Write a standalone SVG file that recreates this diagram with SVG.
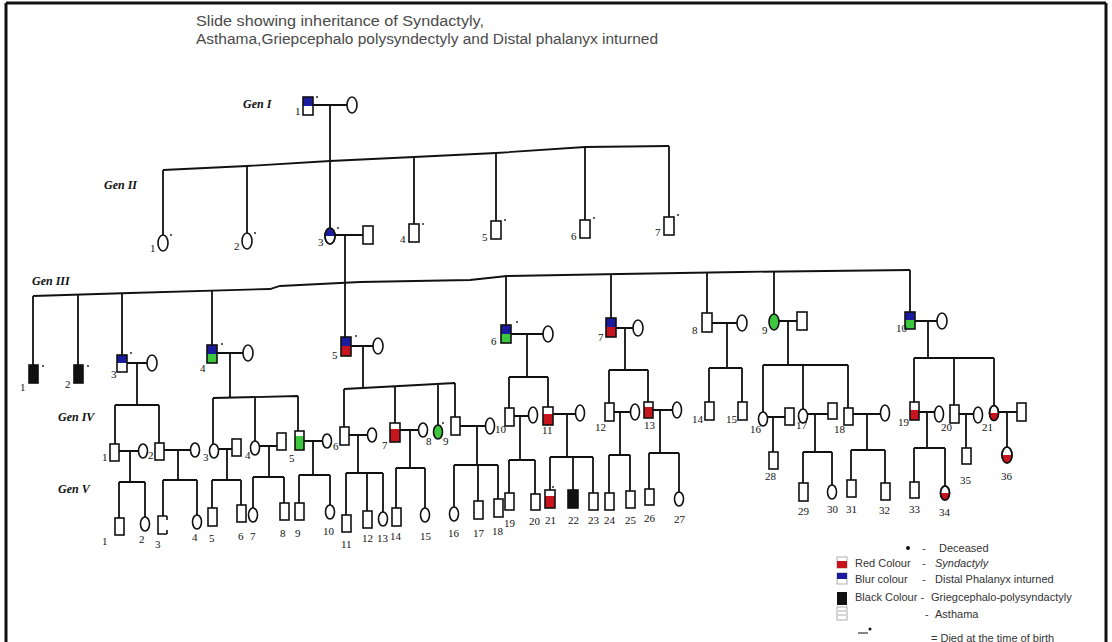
<svg xmlns="http://www.w3.org/2000/svg" width="1112" height="642" viewBox="0 0 1112 642">
<style>
.ln{fill:none;stroke:#111;stroke-width:1.8}
.s{fill:#fff;stroke:#111;stroke-width:1.6}
.o{fill:none;stroke:#111;stroke-width:1.6}
.b{fill:#1b1b9e}.r{fill:#c8141e}.g{fill:#3ec63e}.k{fill:#111}
.n{font-family:"Liberation Serif",serif;font-size:11px;fill:#111}
.gen{font-family:"Liberation Serif",serif;font-style:italic;font-weight:bold;font-size:12px;fill:#111}
.t{font-family:"Liberation Sans",Arial,sans-serif;font-size:14px;fill:#4a4a4a}
.lg{font-family:"Liberation Sans",Arial,sans-serif;font-size:11px;fill:#333}
.d{fill:#111}
</style>
<rect x="0" y="0" width="1112" height="642" fill="#fff"/>
<path d="M6 3H1106M6 3V642M1106 3V642" fill="none" stroke="#111" stroke-width="3"/>
<g id="title">
<text class="t" x="196" y="26" textLength="288" lengthAdjust="spacingAndGlyphs">Slide showing inheritance of Syndactyly,</text>
<text class="t" x="196" y="44" textLength="462" lengthAdjust="spacingAndGlyphs">Asthama,Griepcephalo polysyndectyly and Distal phalanyx inturned</text>
</g>
<g id="gen-labels">
<text class="gen" x="243" y="108">Gen I</text>
<text class="gen" x="104" y="189">Gen II</text>
<text class="gen" x="32" y="285">Gen III</text>
<text class="gen" x="58" y="421">Gen IV</text>
<text class="gen" x="58" y="493">Gen V</text>
</g>
<g id="connectors" class="ln">
<path d="M313 105H347M330 105V228"/>
<path d="M163 170L247 166L330 161L414 157L496 153L585 147L669 146"/>
<path d="M163 170V235M247 166V233M414 157V224M496 153V221M585 147V220M669 146V217"/>
<path d="M335 235H363M345 235V337"/>
<path d="M33 296L130 293L270 289L280 286L360 282L470 280L507 276L620 274L740 272L910 270"/>
<path d="M33 296V365M78 295V365M122 293V355M212 290V345M506 276V325M611 274V318M707 273V313M774 272V314M910 270V312"/>
<path d="M127 363H147M137 363V405M115 405H159M115 405V444M159 405V443"/>
<path d="M119 451H138.5M130 451V482M119 482H145M119 482V518M145 482V517"/>
<path d="M164 450H190.5M178 450V480M163 480H197M163 480V516M197 480V515"/>
<path d="M217 353H243M230 353V397M213 398L298 396M213 398V444M255 397V441M298 396V431"/>
<path d="M218.5 449H232M227 449V480M212 480H241M212 480V508M241 480V505"/>
<path d="M259.5 446H277M269 446V477M253 477H284M253 477V508M284 477V503"/>
<path d="M304 441H322.5M313 441V475M299 475H330M299 475V503M330 475V505"/>
<path d="M351 346H373M363 346V387M344 389L455 383M344 389V427M395 386V423M438 384V425M455 383V417"/>
<path d="M349 435H367.5M358 435V473M346 473H383M346 473V515M367 473V511M383 473V512"/>
<path d="M400 430H418.5M410 430V468M396 468H425M396 468V508M425 468V508"/>
<path d="M460 426H485.5M477 426V465M454 465H498M454 465V507M478 465V501M498 465V499"/>
<path d="M511 334H543M527 334V377M509 377H548M509 377V408M548 377V407"/>
<path d="M514 416H528.5M520 416V460M509 460H535M509 460V493M535 460V494"/>
<path d="M553 414H575.5M567 414V457M550 457H593M550 457V490M573 457V490M593 457V493"/>
<path d="M616 328H633M625 328V370M609 370H648M609 370V403M648 370V402"/>
<path d="M614 412H630.5M620 412V455M609 455H630M609 455V493M630 455V491"/>
<path d="M653 410H672.5M660 410V453M649 453H679M649 453V489M679 453V492"/>
<path d="M712 323H737M727 323V368M709 368H742M709 368V402M742 368V402"/>
<path d="M779 321H797M788 321V365M763 365H848M763 365V412M803 365V409M848 365V408"/>
<path d="M767.5 417H785M773 417V452"/>
<path d="M807.5 414H828M815 414V452M803 452H832M803 452V483M832 452V485"/>
<path d="M853 414H880.5M867 414V450M851 450H885M851 450V480M885 450V483"/>
<path d="M915 321H937M928 321V358M914 358H994M914 358V402M954 358V405M994 358V406"/>
<path d="M919 412H934.5M927 412V448M914 448H945M914 448V482M945 448V486"/>
<path d="M959 414H973.5M966 414V448"/>
<path d="M998.5 412H1017M1007 412V447"/>
</g>
<!-- Generation I -->
<g id="I-1"><rect class="b" x="303" y="97" width="10" height="9"/><rect class="o" x="303" y="97" width="10" height="18"/><text class="n" x="295" y="115">1</text><circle class="d" cx="317" cy="97" r="0.9"/></g>
<g id="I-2"><ellipse class="s" cx="352" cy="105" rx="5" ry="8"/></g>
<!-- Generation II -->
<g id="II-1"><ellipse class="s" cx="163" cy="243" rx="5" ry="8"/><text class="n" x="150" y="252">1</text><circle class="d" cx="171" cy="235" r="0.9"/></g>
<g id="II-2"><ellipse class="s" cx="247" cy="241" rx="5" ry="8"/><text class="n" x="234" y="250">2</text><circle class="d" cx="255" cy="233" r="0.9"/></g>
<g id="II-3"><ellipse class="s" cx="330" cy="236" rx="5" ry="8"/><path class="b" d="M325 236A5 8 0 0 1 335 236Z"/><ellipse class="o" cx="330" cy="236" rx="5" ry="8"/><text class="n" x="318" y="246">3</text><circle class="d" cx="338" cy="228" r="0.9"/></g>
<g id="II-3s"><rect class="s" x="363" y="226" width="10" height="18"/></g>
<g id="II-4"><rect class="s" x="409" y="224" width="10" height="18"/><text class="n" x="400" y="243">4</text><circle class="d" cx="423" cy="224" r="0.9"/></g>
<g id="II-5"><rect class="s" x="491" y="221" width="10" height="18"/><text class="n" x="482" y="241">5</text><circle class="d" cx="505" cy="220" r="0.9"/></g>
<g id="II-6"><rect class="s" x="580" y="220" width="10" height="18"/><text class="n" x="571" y="240">6</text><circle class="d" cx="594" cy="218" r="0.9"/></g>
<g id="II-7"><rect class="s" x="664" y="217" width="10" height="18"/><text class="n" x="655" y="236">7</text><circle class="d" cx="678" cy="215" r="0.9"/></g>
<!-- Generation III -->
<g id="III-1"><rect class="k" x="29" y="365" width="9" height="18"/><rect class="o" x="29" y="365" width="9" height="18"/><text class="n" x="20" y="391">1</text><circle class="d" cx="43" cy="366" r="0.9"/></g>
<g id="III-2"><rect class="k" x="74" y="365" width="9" height="18"/><rect class="o" x="74" y="365" width="9" height="18"/><text class="n" x="65" y="388">2</text><circle class="d" cx="88" cy="366" r="0.9"/></g>
<g id="III-3"><rect class="b" x="117" y="355" width="10" height="8"/><rect class="o" x="117" y="355" width="10" height="17"/><text class="n" x="111" y="378">3</text><circle class="d" cx="131" cy="353" r="0.9"/></g>
<g id="III-3s"><ellipse class="s" cx="152" cy="363" rx="5" ry="8"/></g>
<g id="III-4"><rect class="b" x="207" y="345" width="10" height="9"/><rect class="g" x="207" y="354" width="10" height="9"/><rect class="o" x="207" y="345" width="10" height="18"/><text class="n" x="200" y="372">4</text><circle class="d" cx="222" cy="344" r="0.9"/></g>
<g id="III-4s"><ellipse class="s" cx="248" cy="353" rx="5" ry="8"/></g>
<g id="III-5"><rect class="b" x="341" y="337" width="10" height="9"/><rect class="r" x="341" y="346" width="10" height="10"/><rect class="o" x="341" y="337" width="10" height="19"/><text class="n" x="332" y="359">5</text><circle class="d" cx="356" cy="336" r="0.9"/></g>
<g id="III-5s"><ellipse class="s" cx="378" cy="346" rx="5" ry="8"/></g>
<g id="III-6"><rect class="b" x="501" y="325" width="10" height="9"/><rect class="g" x="501" y="334" width="10" height="9"/><rect class="o" x="501" y="325" width="10" height="18"/><text class="n" x="491" y="345">6</text><circle class="d" cx="517" cy="322" r="0.9"/></g>
<g id="III-6s"><ellipse class="s" cx="548" cy="334" rx="5" ry="8"/></g>
<g id="III-7"><rect class="b" x="606" y="318" width="10" height="9"/><rect class="r" x="606" y="327" width="10" height="10"/><rect class="o" x="606" y="318" width="10" height="19"/><text class="n" x="598" y="341">7</text></g>
<g id="III-7s"><ellipse class="s" cx="638" cy="328" rx="5" ry="8"/></g>
<g id="III-8"><rect class="s" x="702" y="313" width="10" height="19"/><text class="n" x="692" y="334">8</text></g>
<g id="III-8s"><ellipse class="s" cx="742" cy="323" rx="5" ry="8"/></g>
<g id="III-9"><ellipse class="g" cx="774" cy="322" rx="5" ry="8"/><ellipse class="o" cx="774" cy="322" rx="5" ry="8"/><text class="n" x="762" y="334">9</text></g>
<g id="III-9s"><rect class="s" x="797" y="312" width="10" height="18"/></g>
<g id="III-10"><rect class="b" x="905" y="312" width="10" height="8"/><rect class="g" x="905" y="320" width="10" height="9"/><rect class="o" x="905" y="312" width="10" height="17"/><text class="n" x="896" y="332">10</text></g>
<g id="III-10s"><ellipse class="s" cx="942" cy="321" rx="5" ry="8"/></g>
<!-- Generation IV -->
<g id="IV-1"><rect class="s" x="110" y="444" width="9" height="17"/><text class="n" x="102" y="461">1</text></g>
<g id="IV-1s"><ellipse class="s" cx="143" cy="451" rx="4.5" ry="7"/></g>
<g id="IV-2"><rect class="s" x="155" y="443" width="9" height="17"/><text class="n" x="148" y="459">2</text></g>
<g id="IV-2s"><ellipse class="s" cx="195" cy="450" rx="4.5" ry="7"/></g>
<g id="IV-3"><ellipse class="s" cx="214" cy="451" rx="4.5" ry="7"/><text class="n" x="203" y="461">3</text></g>
<g id="IV-3s"><rect class="s" x="232" y="439" width="9" height="17"/></g>
<g id="IV-4"><ellipse class="s" cx="255" cy="448" rx="4.5" ry="7"/><text class="n" x="245" y="459">4</text></g>
<g id="IV-4s"><rect class="s" x="277" y="433" width="9" height="17"/></g>
<g id="IV-5"><rect class="g" x="295" y="436" width="9" height="14"/><rect class="o" x="295" y="431" width="9" height="19"/><text class="n" x="289" y="462">5</text></g>
<g id="IV-5s"><ellipse class="s" cx="327" cy="441" rx="4.5" ry="7"/></g>
<g id="IV-6"><rect class="s" x="340" y="427" width="9" height="18"/><text class="n" x="333" y="450">6</text></g>
<g id="IV-6s"><ellipse class="s" cx="372" cy="435" rx="4.5" ry="7"/></g>
<g id="IV-7"><rect class="r" x="390" y="429" width="10" height="13"/><rect class="o" x="390" y="423" width="10" height="19"/><text class="n" x="382" y="449">7</text></g>
<g id="IV-7s"><ellipse class="s" cx="423" cy="430" rx="4.5" ry="7"/></g>
<g id="IV-8"><ellipse class="g" cx="438" cy="432" rx="4.5" ry="7"/><ellipse class="o" cx="438" cy="432" rx="4.5" ry="7"/><text class="n" x="426" y="445">8</text><circle class="d" cx="443" cy="423" r="0.9"/></g>
<g id="IV-9"><rect class="s" x="451" y="417" width="9" height="18"/><text class="n" x="443" y="445">9</text></g>
<g id="IV-9s"><ellipse class="s" cx="490" cy="426" rx="4.5" ry="8"/></g>
<g id="IV-10"><rect class="s" x="505" y="408" width="9" height="18"/><text class="n" x="495" y="433">10</text></g>
<g id="IV-10s"><ellipse class="s" cx="533" cy="415" rx="4.5" ry="8"/></g>
<g id="IV-11"><rect class="r" x="543" y="414" width="10" height="11"/><rect class="o" x="543" y="407" width="10" height="18"/><text class="n" x="542" y="434">11</text></g>
<g id="IV-11s"><ellipse class="s" cx="580" cy="413" rx="4.5" ry="8"/></g>
<g id="IV-12"><rect class="s" x="605" y="403" width="9" height="18"/><text class="n" x="595" y="431">12</text></g>
<g id="IV-12s"><ellipse class="s" cx="635" cy="412" rx="4.5" ry="8"/></g>
<g id="IV-13"><rect class="r" x="644" y="407" width="9" height="11"/><rect class="o" x="644" y="402" width="9" height="16"/><text class="n" x="644" y="429">13</text></g>
<g id="IV-13s"><ellipse class="s" cx="677" cy="410" rx="4.5" ry="8"/></g>
<g id="IV-14"><rect class="s" x="705" y="402" width="9" height="18"/><text class="n" x="692" y="423">14</text></g>
<g id="IV-15"><rect class="s" x="738" y="402" width="9" height="18"/><text class="n" x="726" y="423">15</text></g>
<g id="IV-16"><ellipse class="s" cx="763" cy="419" rx="4.5" ry="7"/><text class="n" x="750" y="433">16</text></g>
<g id="IV-16s"><rect class="s" x="785" y="408" width="9" height="17"/></g>
<g id="IV-17"><ellipse class="s" cx="803" cy="416" rx="4.5" ry="7"/><text class="n" x="796" y="429">17</text></g>
<g id="IV-17s"><rect class="s" x="828" y="403" width="9" height="16"/></g>
<g id="IV-18"><rect class="s" x="844" y="408" width="9" height="17"/><text class="n" x="834" y="433">18</text></g>
<g id="IV-18s"><ellipse class="s" cx="885" cy="413" rx="4.5" ry="8"/></g>
<g id="IV-19"><rect class="r" x="910" y="410" width="9" height="10"/><rect class="o" x="910" y="402" width="9" height="18"/><text class="n" x="898" y="426">19</text></g>
<g id="IV-19s"><ellipse class="s" cx="939" cy="414" rx="4.5" ry="8"/></g>
<g id="IV-20"><rect class="s" x="950" y="405" width="9" height="18"/><text class="n" x="941" y="431">20</text></g>
<g id="IV-20s"><ellipse class="s" cx="978" cy="415" rx="4.5" ry="8"/></g>
<g id="IV-21"><ellipse class="s" cx="994" cy="413" rx="4.5" ry="7.5"/><path class="r" d="M989.5 413A4.5 7.5 0 0 0 998.5 413Z"/><ellipse class="o" cx="994" cy="413" rx="4.5" ry="7.5"/><text class="n" x="982" y="431">21</text></g>
<g id="IV-21s"><rect class="s" x="1017" y="403" width="9" height="18"/></g>
<!-- Generation V -->
<g id="V-1"><rect class="s" x="115" y="518" width="9" height="17"/><text class="n" x="102" y="545">1</text></g>
<g id="V-2"><ellipse class="s" cx="145" cy="524" rx="4.5" ry="7"/><text class="n" x="139" y="543">2</text></g>
<g id="V-3"><path class="o" d="M167 516H158V534H167M167 516V520M167 530V534"/><text class="n" x="155" y="548">3</text></g>
<g id="V-4"><ellipse class="s" cx="197" cy="522" rx="4.5" ry="7"/><text class="n" x="192" y="541">4</text></g>
<g id="V-5"><rect class="s" x="208" y="508" width="9" height="18"/><text class="n" x="209" y="542">5</text></g>
<g id="V-6"><rect class="s" x="237" y="505" width="9" height="17"/><text class="n" x="238" y="540">6</text></g>
<g id="V-7"><ellipse class="s" cx="253" cy="515" rx="4.5" ry="7"/><text class="n" x="250" y="540">7</text></g>
<g id="V-8"><rect class="s" x="280" y="503" width="9" height="17"/><text class="n" x="280" y="537">8</text></g>
<g id="V-9"><rect class="s" x="295" y="503" width="9" height="17"/><text class="n" x="295" y="537">9</text></g>
<g id="V-10"><ellipse class="s" cx="330" cy="512" rx="4.5" ry="7"/><text class="n" x="323" y="535">10</text></g>
<g id="V-11"><rect class="s" x="342" y="515" width="9" height="17"/><text class="n" x="341" y="548">11</text></g>
<g id="V-12"><rect class="s" x="363" y="511" width="9" height="17"/><text class="n" x="362" y="542">12</text></g>
<g id="V-13"><ellipse class="s" cx="383" cy="519" rx="4.5" ry="7"/><text class="n" x="377" y="542">13</text></g>
<g id="V-14"><rect class="s" x="392" y="508" width="9" height="18"/><text class="n" x="390" y="540">14</text></g>
<g id="V-15"><ellipse class="s" cx="425" cy="515" rx="4.5" ry="7"/><text class="n" x="420" y="540">15</text></g>
<g id="V-16"><ellipse class="s" cx="454" cy="514" rx="4.5" ry="7"/><text class="n" x="448" y="537">16</text></g>
<g id="V-17"><rect class="s" x="474" y="501" width="9" height="18"/><text class="n" x="473" y="537">17</text></g>
<g id="V-18"><rect class="s" x="494" y="499" width="9" height="18"/><text class="n" x="492" y="535">18</text></g>
<g id="V-19"><rect class="s" x="505" y="493" width="9" height="17"/><text class="n" x="504" y="527">19</text></g>
<g id="V-20"><rect class="s" x="531" y="494" width="9" height="16"/><text class="n" x="529" y="525">20</text></g>
<g id="V-21"><rect class="r" x="545" y="496" width="10" height="12"/><rect class="o" x="545" y="490" width="10" height="18"/><text class="n" x="545" y="524">21</text><circle class="d" cx="553" cy="487" r="0.9"/></g>
<g id="V-22"><rect class="k" x="568" y="490" width="10" height="18"/><rect class="o" x="568" y="490" width="10" height="18"/><text class="n" x="568" y="524">22</text></g>
<g id="V-23"><rect class="s" x="589" y="493" width="9" height="17"/><text class="n" x="588" y="524">23</text></g>
<g id="V-24"><rect class="s" x="605" y="493" width="9" height="17"/><text class="n" x="604" y="524">24</text></g>
<g id="V-25"><rect class="s" x="626" y="491" width="9" height="17"/><text class="n" x="625" y="524">25</text></g>
<g id="V-26"><rect class="s" x="645" y="489" width="9" height="16"/><text class="n" x="644" y="522">26</text></g>
<g id="V-27"><ellipse class="s" cx="679" cy="499" rx="4.5" ry="7"/><text class="n" x="674" y="523">27</text></g>
<g id="V-28"><rect class="s" x="769" y="452" width="9" height="17"/><text class="n" x="765" y="480">28</text></g>
<g id="V-29"><rect class="s" x="799" y="483" width="9" height="18"/><text class="n" x="798" y="515">29</text></g>
<g id="V-30"><ellipse class="s" cx="832" cy="492" rx="4.5" ry="7"/><text class="n" x="827" y="513">30</text></g>
<g id="V-31"><rect class="s" x="847" y="480" width="9" height="17"/><text class="n" x="846" y="513">31</text></g>
<g id="V-32"><rect class="s" x="881" y="483" width="9" height="17"/><text class="n" x="879" y="514">32</text></g>
<g id="V-33"><rect class="s" x="910" y="482" width="9" height="16"/><text class="n" x="909" y="513">33</text></g>
<g id="V-34"><ellipse class="s" cx="945" cy="493" rx="4.5" ry="7"/><path class="r" d="M940.5 493A4.5 7 0 0 0 949.5 493Z"/><ellipse class="o" cx="945" cy="493" rx="4.5" ry="7"/><text class="n" x="939" y="516">34</text></g>
<g id="V-35"><rect class="s" x="962" y="448" width="9" height="16"/><text class="n" x="960" y="484">35</text></g>
<g id="V-36"><ellipse class="s" cx="1007" cy="455" rx="5" ry="8"/><path class="r" d="M1002 455A5 8 0 0 0 1012 455Z"/><ellipse class="o" cx="1007" cy="455" rx="5" ry="8"/><text class="n" x="1001" y="480">36</text></g>
<!-- Legend -->
<g id="legend">
<circle cx="908" cy="548" r="2" fill="#111"/>
<text class="lg" x="922" y="552">-</text><text class="lg" x="939" y="552">Deceased</text>
<rect x="837" y="557" width="10" height="11" fill="#fff" stroke="#999" stroke-width="0.8"/><rect x="837" y="561" width="10" height="7" fill="#c8141e"/>
<text class="lg" x="855" y="567">Red Colour</text><text class="lg" x="922" y="567">-</text><text class="lg" x="935" y="567" font-style="italic">Syndactyly</text>
<rect x="837" y="573" width="10" height="11" fill="#fff" stroke="#999" stroke-width="0.8"/><rect x="837" y="573" width="10" height="6" fill="#1b1b9e"/>
<text class="lg" x="855" y="583">Blur colour</text><text class="lg" x="922" y="583">-</text><text class="lg" x="935" y="583">Distal Phalanyx inturned</text>
<rect x="837" y="592" width="10" height="13" fill="#111"/>
<text class="lg" x="855" y="601">Black Colour -</text><text class="lg" x="931" y="601">Griegcephalo-polysyndactyly</text>
<rect x="837" y="607" width="10" height="13" fill="#fff" stroke="#999" stroke-width="0.8"/><path d="M838 611H846M838 615H846" stroke="#999" stroke-width="0.8"/>
<text class="lg" x="925" y="618">-</text><text class="lg" x="935" y="618">Asthama</text>
<path d="M858 633H868" stroke="#111" stroke-width="1"/><circle cx="870" cy="629" r="1.5" fill="#111"/>
<text class="lg" x="931" y="642">= Died at the time of birth</text>
</g>
</svg>
